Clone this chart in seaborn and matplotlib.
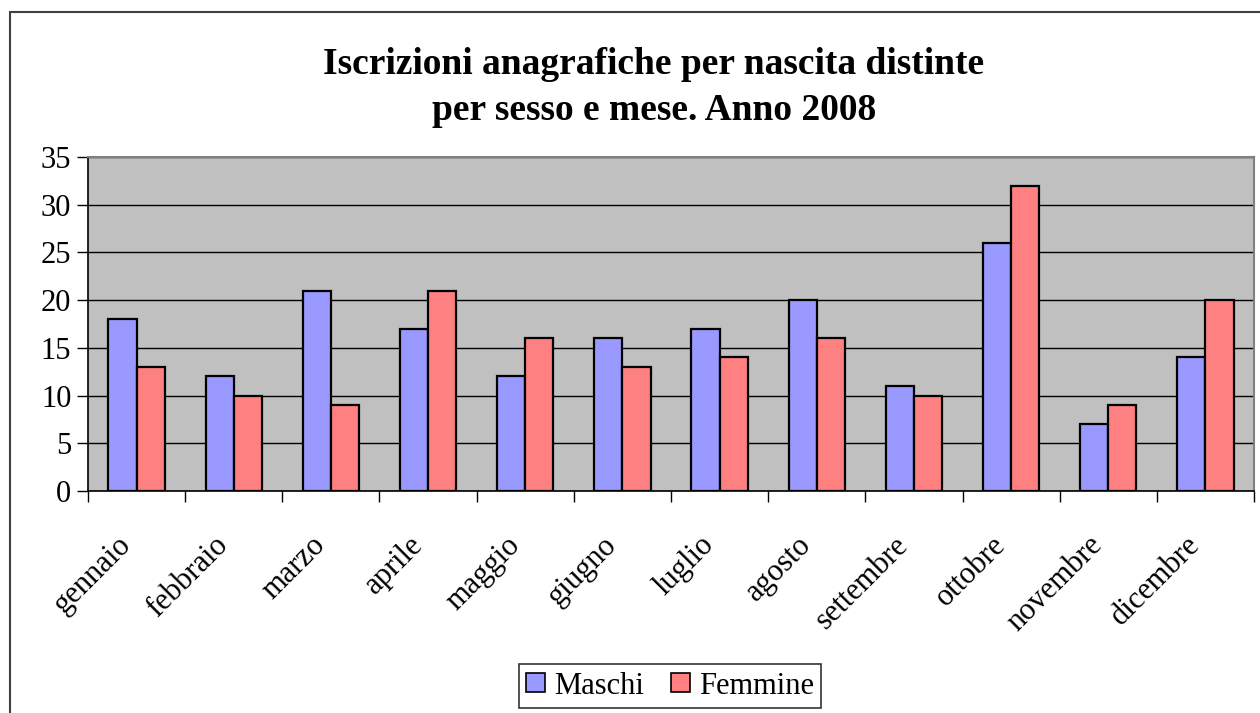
import pandas as pd
import seaborn as sns
import matplotlib.pyplot as plt
from matplotlib.lines import Line2D
from matplotlib.transforms import ScaledTranslation

months = ["gennaio", "febbraio", "marzo", "aprile", "maggio", "giugno",
          "luglio", "agosto", "settembre", "ottobre", "novembre", "dicembre"]
maschi = [18, 12, 21, 17, 12, 16, 17, 20, 11, 26, 7, 14]
femmine = [13, 10, 9, 21, 16, 13, 14, 16, 10, 32, 9, 20]
yticks = [0, 5, 10, 15, 20, 25, 30, 35]

df = pd.DataFrame({"mese": months * 2,
                   "valore": maschi + femmine,
                   "sesso": ["Maschi"] * 12 + ["Femmine"] * 12})

sns.set_theme(style="white")
plt.rcParams["font.family"] = ["Liberation Serif", "DejaVu Serif"]
plt.rcParams["text.color"] = "black"
plt.rcParams["xtick.color"] = "black"
plt.rcParams["ytick.color"] = "black"

fig = plt.figure(figsize=(12.6, 7.13), dpi=100)
ax = fig.add_axes([88 / 1260, 1 - 491 / 713, (1254 - 88) / 1260, (491 - 157) / 713])
ax.set_facecolor("#C0C0C0")

sns.barplot(data=df, x="mese", y="valore", hue="sesso", order=months,
            palette={"Maschi": "#9999FF", "Femmine": "#FF8080"}, saturation=1,
            width=0.58, edgecolor="black", linewidth=1.6, ax=ax,
            zorder=3, legend=False)

ax.set_ylim(0, 35)
ax.set_xlim(-0.5, len(months) - 0.5)
ax.set_yticks(yticks)
ax.yaxis.grid(True, color="black", linewidth=1.0, zorder=1)
ax.set_axisbelow(True)
ax.set_xlabel("")
ax.set_ylabel("")

ax.set_xticks(range(len(months)))
ax.set_xticklabels(months, rotation=45, ha="right", rotation_mode="anchor", fontsize=22)
ax.set_xticks([i - 0.5 for i in range(len(months) + 1)], minor=True)
ax.tick_params(axis="x", which="major", length=0, pad=14)
ax.tick_params(axis="x", which="minor", length=8, width=1, color="black", direction="out")
ax.tick_params(axis="y", length=8, width=1, color="black", direction="out", labelsize=22, pad=4)
ax.tick_params(left=True, bottom=True, which="both")

# nudge the rotated month labels to sit like the original
shift = ScaledTranslation(-20 / 100, -20 / 100, fig.dpi_scale_trans)
for lbl in ax.get_xticklabels():
    lbl.set_transform(lbl.get_transform() + shift)

for side in ["left", "bottom"]:
    ax.spines[side].set_color("black")
    ax.spines[side].set_linewidth(1.2)
for side in ["top", "right"]:
    ax.spines[side].set_color("#808080")
    ax.spines[side].set_linewidth(1.5)

fig.text(0.519, 1 - 65 / 713, "Iscrizioni anagrafiche per nascita distinte",
         ha="center", va="center", fontsize=27, fontweight="bold")
fig.text(0.519, 1 - 110 / 713, "per sesso e mese. Anno 2008",
         ha="center", va="center", fontsize=27, fontweight="bold")

# outer chart frame
fig.add_artist(Line2D([10 / 1260, 10 / 1260], [0, 1 - 12 / 713], color="#404040", linewidth=1.5))
fig.add_artist(Line2D([10 / 1260, 1], [1 - 12 / 713, 1 - 12 / 713], color="#404040", linewidth=1.5))

handles = [plt.Rectangle((0, 0), 1, 1, facecolor="#9999FF", edgecolor="black", linewidth=1.2),
           plt.Rectangle((0, 0), 1, 1, facecolor="#FF8080", edgecolor="black", linewidth=1.2)]
leg = fig.legend(handles, ["Maschi", "Femmine"], loc="center",
                 bbox_to_anchor=(670 / 1260, 1 - 686 / 713), ncol=2,
                 fontsize=22, frameon=True, fancybox=False, edgecolor="black",
                 handlelength=0.6, handleheight=0.6, handletextpad=0.3,
                 columnspacing=0.9, borderpad=0.25, borderaxespad=0)
leg.get_frame().set_linewidth(1.2)

fig.savefig("out.png", dpi=100)
